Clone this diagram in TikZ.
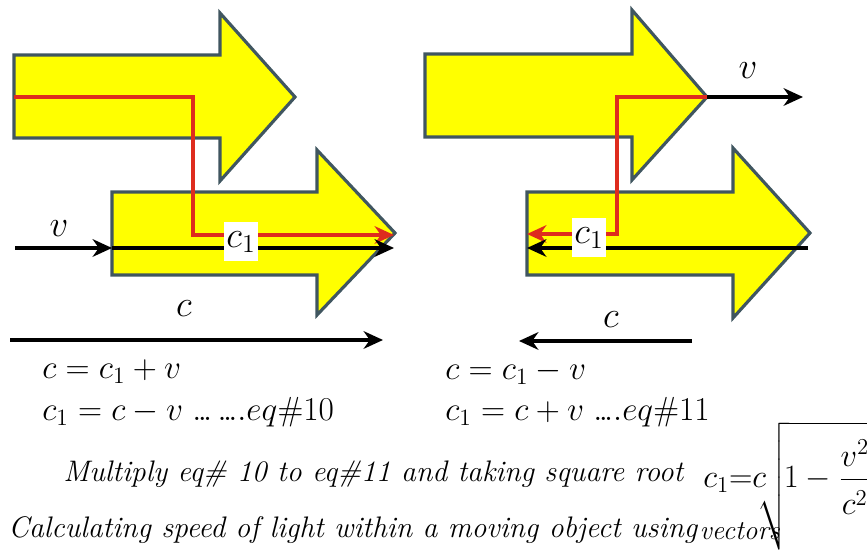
\documentclass[tikz,border=0pt]{standalone}
\usepackage{fix-cm}
\usepackage{amsmath}
\usetikzlibrary{arrows.meta}

\definecolor{blockedge}{RGB}{64,86,96}
\definecolor{raycol}{RGB}{222,44,30}
\definecolor{blockfill}{RGB}{255,255,0}

\newcommand{\dotrun}{.\mkern-2mu.\mkern-2mu.}

\tikzset{
  block/.style={draw=blockedge, fill=blockfill, line width=1.8pt, line join=miter},
  vec/.style={draw=black, line width=2pt, -{Stealth[length=11pt,width=10pt,inset=3.5pt]}},
  ray/.style={draw=raycol, line width=2pt, -{Stealth[length=11pt,width=10pt,inset=3.5pt]}},
  sym/.style={font=\fontsize{21}{24}\selectfont},
  tag/.style={fill=white, inner xsep=1.5pt, inner ysep=0pt, minimum height=0.78cm, font=\fontsize{21}{24}\selectfont},
  eqn/.style={anchor=west, inner sep=0pt, font=\fontsize{19}{22}\selectfont},
  remark/.style={anchor=base west, inner sep=0pt, font=\fontsize{16.9}{20}\selectfont\itshape}
}

\begin{document}
\begin{tikzpicture}[x=0.02cm, y=-0.02cm]
			\useasboundingbox (0, 0) rectangle (867, 550);
			% moving objects
			\draw[block] (14, 55) -- (220, 55) -- (220, 13) -- (295, 97) -- (220, 181) -- (220, 138) -- (14, 138) -- cycle;
			\draw[block] (112, 192) -- (317, 192) -- (317, 150) -- (395, 233) -- (317, 315) -- (317, 275) -- (112, 275) -- cycle;
			\draw[block] (425, 54) -- (632, 54) -- (632, 10) -- (707, 97) -- (632, 180) -- (632, 137) -- (425, 137) -- cycle;
			\draw[block] (527, 192) -- (733, 192) -- (733, 148) -- (810, 233) -- (733, 318) -- (733, 275) -- (527, 275) -- cycle;
			% left case
			\coordinate (rL0) at (14, 97);
			\coordinate (rL1) at (193, 97);
			\coordinate (rL2) at (193, 235);
			\coordinate (rL3) at (394, 235);
			\coordinate (vL0) at (15, 248);
			\coordinate (vL1) at (112, 248);
			\coordinate (kL1) at (394, 248);
			\coordinate (cL0) at (10, 340);
			\coordinate (cL1) at (383, 340);
			\draw[ray] (rL0) -- (rL1) -- (rL2) -- (rL3);
			\draw[vec] (vL0) -- (vL1);
			\draw[vec] (vL1) -- (kL1);
			\draw[vec] (cL0) -- (cL1);
			\node[sym](vL) at (59, 229){$v$};
			\node[tag](c1L) at (241, 242){$c_1$};
			\node[sym](cL) at (184, 309){$c$};
			% right case
			\coordinate (rR0) at (707, 97);
			\coordinate (rR1) at (617, 97);
			\coordinate (rR2) at (617, 234);
			\coordinate (rR3) at (527, 234);
			\coordinate (vR1) at (803, 97);
			\coordinate (kR0) at (808, 248);
			\coordinate (kR1) at (527, 248);
			\coordinate (cR0) at (692, 341);
			\coordinate (cR1) at (519, 341);
			\draw[ray] (rR0) -- (rR1) -- (rR2) -- (rR3);
			\draw[vec] (rR0) -- (vR1);
			\draw[vec] (kR0) -- (kR1);
			\draw[vec] (cR0) -- (cR1);
			\node[sym](vR) at (748, 71){$v$};
			\node[tag](c1R) at (589, 238){$c_1$};
			\node[sym](cR) at (611, 320){$c$};
			% equations
			\node[eqn](E1) at (42, 372){$c = c_1 + v$};
			\node[eqn](E2) at (42, 412){$c_1 = c - v\;\dotrun\,\dotrun.eq\#10$};
			\node[eqn](E3) at (445, 372){$c = c_1 - v$};
			\node[eqn](E4) at (445, 412){$c_1 = c + v\;\dotrun.eq\#11$};
			\node[remark](M) at (63, 482){Multiply eq\# 10 to eq\#11 and taking square root};
			\node[anchor=base west, inner sep=0pt, font=\fontsize{18.5}{22}\selectfont](R) at (703, 488){$c_1{=}c\mkern-5mu\sqrt{\mkern-3mu\rule[-1.85em]{0pt}{3.7em}1-\dfrac{v^2}{\rule{0pt}{0.95em}c^2}}$};
			\node[remark](T) at (8, 538){Calculating speed of light within a moving object using};
			\node[remark, font=\fontsize{15.5}{18}\selectfont\itshape](Tv) at (T.base east) [xshift=1pt, yshift=-1pt]{vectors};
		\end{tikzpicture}
\end{document}
